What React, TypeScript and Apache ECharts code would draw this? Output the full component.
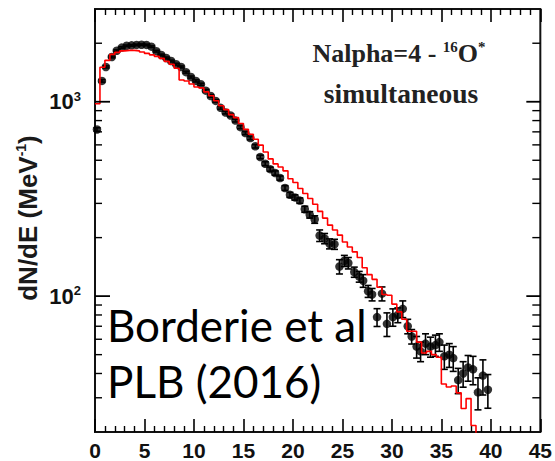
import React, { useEffect, useRef } from 'react';
import * as echarts from 'echarts';

// Measured points (E in MeV, dN/dE)
const energies = [
  0.2, 0.7, 1.1, 1.7, 2.2, 2.7, 3.2, 3.7, 4.2, 4.7, 5.2, 5.7, 6.2, 6.7, 7.2, 7.7, 8.2, 8.7, 9.2, 9.7,
  10.2, 10.7, 11.2, 11.7, 12.2, 12.7, 13.2, 13.7, 14.2, 14.7, 15.2, 15.7, 16.2, 16.7, 17.2, 17.7, 18.2, 18.7, 19.2, 19.7,
  20.2, 20.7, 21.2, 21.7, 22.2, 22.7, 23.2, 23.7, 24.2, 24.7, 25.2, 25.6, 26.2, 26.7, 27.1, 27.6, 28.0, 28.5, 29.0, 29.5,
  30.1, 30.6, 31.1, 31.6, 32.0, 32.5, 32.9, 33.4, 33.9, 34.4, 34.8, 35.3, 35.8, 36.2, 36.7, 37.2, 37.7, 38.2, 38.7, 39.2, 39.7,
];
const counts = [
  720, 1280, 1510, 1700, 1830, 1900, 1940, 1950, 1960, 1965, 1960, 1920, 1820, 1740, 1680, 1620, 1560, 1510, 1420, 1340,
  1280, 1230, 1140, 1070, 1010, 930, 880, 850, 800, 740, 690, 650, 590, 520, 480, 450, 430, 405, 360, 332,
  322, 310, 280, 262, 248, 205, 198, 186, 185, 142, 152, 148, 133, 126, 120, 106, 102, 78, 103, 72,
  78, 80, 86, 70, 62, 55, 52, 57, 55, 56, 58, 49, 50, 48, 37, 40, 43, 42, 32, 39, 33,
];
const errors = [
  15, 18, 18, 18, 18, 18, 18, 18, 18, 18, 18, 18, 18, 18, 18, 17, 17, 17, 16, 16,
  16, 15, 15, 15, 14, 14, 14, 13, 13, 13, 12, 12, 12, 11, 11, 11, 11, 10, 10, 10,
  10, 10, 10, 10, 11, 14, 12, 11, 11, 12, 10, 10, 8, 8, 9, 7.5, 7.5, 8.2, 8.5, 10,
  8, 7, 8.5, 6, 5.3, 7, 6, 7, 6.5, 7, 6, 7, 7, 7, 5.5, 6, 6.5, 7, 6, 8, 6.5,
];

// Simulation histogram (lower bin edge in MeV, dN/dE)
const histLow = [
  0, 0.5, 1, 1.5, 2, 2.5, 3, 3.5, 4, 4.5, 5, 5.5, 6, 6.5, 7, 7.5, 8, 8.5, 9, 9.5,
  10, 10.5, 11, 11.5, 12, 12.5, 13, 13.5, 14, 14.5, 15, 15.5, 16, 16.5, 17, 17.5, 18, 18.5, 19, 19.5,
  20, 20.5, 21, 21.5, 22, 22.5, 23, 23.5, 24, 24.5, 25, 25.5, 26, 26.5, 27, 27.5, 28, 28.5, 29, 29.5,
  30, 30.5, 31, 31.5, 32, 32.5, 33, 33.5, 34, 34.5, 35, 35.5, 36, 36.5, 37, 37.5, 38, 38.5,
];
const histValues = [
  977, 1505, 1633, 1753, 1795, 1826, 1838, 1838, 1826, 1804, 1773, 1743, 1711, 1672, 1614, 1560, 1488, 1293, 1278, 1234,
  1191, 1178, 1124, 1073, 1012, 954, 911, 859, 829, 773, 721, 680, 641, 598, 551, 508, 479, 462, 441, 402,
  384, 358, 337, 318, 297, 273, 252, 232, 219, 206, 190, 179, 169, 158, 140, 129, 122, 111, 102, 101,
  91, 83, 76, 66, 66, 58, 51, 52, 50, 48.5, 35.3, 34.1, 34.5, 31.8, 26.4, 29.7, 21.6, 15,
];

const yMajorTicks = [100, 1000];
const yMinorTicks = [30, 40, 50, 60, 70, 80, 90, 200, 300, 400, 500, 600, 700, 800, 900, 2000];

const labelFont = 'Liberation Sans, Arial, sans-serif';
const serifFont = 'Liberation Serif, Times New Roman, serif';

function buildOption() {
  const tickData = [
    ...yMajorTicks.map((v) => [0, v, 1]),
    ...yMinorTicks.map((v) => [0, v, 0]),
  ];
  const errData = energies.map((e, i) => [e, counts[i] - errors[i], counts[i] + errors[i]]);
  const pointData = energies.map((e, i) => [e, counts[i]]);
  const histData = histLow.map((e, i) => [e, histValues[i]]);

  const xAxisCommon = {
    type: 'value',
    min: 0,
    max: 45,
    interval: 5,
    axisLine: { show: false },
    axisTick: { show: true, inside: true, length: 13, lineStyle: { color: '#000', width: 1.6 } },
    minorTick: { show: true, splitNumber: 5, length: 6, lineStyle: { color: '#000', width: 1.4 } },
    splitLine: { show: false },
    minorSplitLine: { show: false },
  };

  return {
    animation: false,
    backgroundColor: '#ffffff',
    grid: {
      left: 95, right: 12, top: 9, bottom: 24,
      show: true, borderColor: '#111', borderWidth: 2, backgroundColor: 'transparent',
    },
    xAxis: [
      {
        ...xAxisCommon,
        position: 'bottom',
        axisLabel: {
          show: true, margin: 8, color: '#111',
          fontFamily: labelFont, fontWeight: 'bold', fontSize: 21,
        },
      },
      {
        ...xAxisCommon,
        position: 'top',
        axisLabel: { show: false },
      },
    ],
    yAxis: {
      type: 'log',
      logBase: 10,
      min: 20,
      max: 3000,
      axisLine: { show: false },
      axisTick: { show: false },
      splitLine: { show: false },
      axisLabel: {
        margin: 14,
        formatter: (v: number) => {
          const l = Math.log10(v);
          const r = Math.round(l);
          if (Math.abs(l - r) > 1e-6 || r < 2 || r > 3) return '';
          return `{a|10}{b|${r}}`;
        },
        rich: {
          a: { fontFamily: labelFont, fontWeight: 'bold', fontSize: 22, color: '#111', lineHeight: 24 },
          b: { fontFamily: labelFont, fontWeight: 'bold', fontSize: 13, color: '#111', verticalAlign: 'top', lineHeight: 13 },
        },
      },
    },
    series: [
      {
        type: 'custom',
        name: 'yticks',
        silent: true,
        clip: false,
        data: tickData,
        encode: { x: 0, y: 1 },
        renderItem: (params: any, api: any) => {
          const cs = params.coordSys;
          const p = api.coord([0, api.value(1)]);
          const major = api.value(2) === 1;
          const lenL = major ? 15 : 7;
          const lenR = major ? 14 : 8;
          const w = major ? 1.8 : 1.4;
          return {
            type: 'group',
            children: [
              { type: 'line', shape: { x1: cs.x, y1: p[1], x2: cs.x + lenL, y2: p[1] }, style: { stroke: '#000', lineWidth: w } },
              { type: 'line', shape: { x1: cs.x + cs.width - lenR, y1: p[1], x2: cs.x + cs.width, y2: p[1] }, style: { stroke: '#000', lineWidth: w } },
            ],
          };
        },
        z: 5,
      },
      {
        type: 'custom',
        name: 'errors',
        silent: true,
        data: errData,
        encode: { x: 0, y: [1, 2] },
        renderItem: (params: any, api: any) => {
          const x = api.value(0);
          const lo = api.coord([x, api.value(1)]);
          const hi = api.coord([x, api.value(2)]);
          const c = 3.5;
          const st = { stroke: '#000', lineWidth: 1.6 };
          return {
            type: 'group',
            children: [
              { type: 'line', shape: { x1: lo[0], y1: lo[1], x2: hi[0], y2: hi[1] }, style: st },
              { type: 'line', shape: { x1: lo[0] - c, y1: lo[1], x2: lo[0] + c, y2: lo[1] }, style: st },
              { type: 'line', shape: { x1: hi[0] - c, y1: hi[1], x2: hi[0] + c, y2: hi[1] }, style: st },
            ],
          };
        },
        z: 2,
      },
      {
        type: 'scatter',
        name: 'data',
        data: pointData,
        symbol: 'circle',
        symbolSize: 8.5,
        itemStyle: { color: '#000' },
        silent: true,
        z: 3,
      },
      {
        type: 'line',
        name: 'simulation',
        data: histData,
        step: 'end',
        showSymbol: false,
        symbol: 'none',
        clip: true,
        lineStyle: { color: '#ff0000', width: 1.6 },
        silent: true,
        z: 4,
      },
    ],
    graphic: [
      {
        type: 'text',
        x: 28,
        y: 218,
        rotation: Math.PI / 2,
        silent: true,
        style: {
          text: '{m|dN/dE (MeV}{s|-1}{m|)}',
          textAlign: 'center',
          textVerticalAlign: 'middle',
          rich: {
            m: { fontFamily: labelFont, fontWeight: 'bold', fontSize: 26, fill: '#1a1a1a', lineHeight: 28 },
            s: { fontFamily: labelFont, fontWeight: 'bold', fontSize: 14, fill: '#1a1a1a', verticalAlign: 'top', lineHeight: 14 },
          },
        },
      },
      {
        type: 'text',
        x: 399,
        y: 53,
        silent: true,
        style: {
          text: '{n|Nalpha=4 - }{s|16}{n|O}{s|*}',
          textAlign: 'center',
          textVerticalAlign: 'middle',
          rich: {
            n: { fontFamily: serifFont, fontWeight: 'bold', fontSize: 26, fill: '#222', lineHeight: 28 },
            s: { fontFamily: serifFont, fontWeight: 'bold', fontSize: 15, fill: '#222', verticalAlign: 'top', lineHeight: 15 },
          },
        },
      },
      {
        type: 'text',
        x: 401,
        y: 93,
        silent: true,
        style: {
          text: 'simultaneous',
          textAlign: 'center',
          textVerticalAlign: 'middle',
          fontFamily: serifFont,
          fontWeight: 'bold',
          fontSize: 27.5,
          fill: '#222',
        },
      },
      {
        type: 'text',
        x: 107,
        y: 325,
        silent: true,
        style: {
          text: 'Borderie et al',
          textAlign: 'left',
          textVerticalAlign: 'middle',
          fontFamily: 'Lato, Open Sans, sans-serif',
          fontSize: 44,
          fill: '#000',
        },
      },
      {
        type: 'text',
        x: 107,
        y: 381,
        silent: true,
        style: {
          text: 'PLB (2016)',
          textAlign: 'left',
          textVerticalAlign: 'middle',
          fontFamily: 'Lato, Open Sans, sans-serif',
          fontSize: 44,
          fill: '#000',
        },
      },
    ],
  };
}

export default function App() {
  const ref = useRef<HTMLDivElement>(null);
  useEffect(() => {
    if (!ref.current) return;
    const chart = echarts.init(ref.current, null, { renderer: 'svg' });
    chart.setOption(buildOption() as any);
    return () => chart.dispose();
  }, []);
  return (
    <div
      ref={ref}
      style={{ position: 'absolute', left: 0, top: 0, width: 555, height: 461, background: '#fff' }}
    />
  );
}
